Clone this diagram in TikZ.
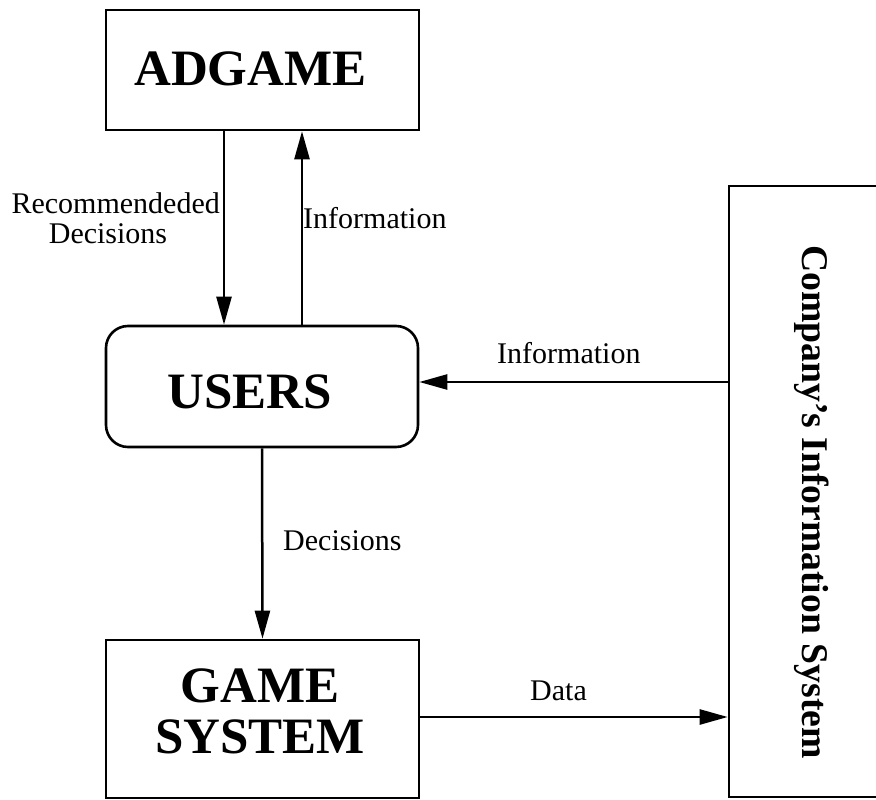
\documentclass[tikz,border=0pt]{standalone}
\usepackage{fontspec}
\setmainfont{Liberation Serif}
\usetikzlibrary{arrows.meta,calc}
\begin{document}
\begin{tikzpicture}[x=1pt,y=-1pt,
  box/.style={draw, line width=2.6pt, rectangle, inner sep=0pt},
  big/.style={font=\fontsize{51}{51}\selectfont\bfseries, inner sep=0pt},
  lbl/.style={font=\fontsize{30}{30}\selectfont, inner sep=0pt},
  arr/.style={-{Triangle[length=28pt,width=15pt]}, line width=2.5pt},
]
\useasboundingbox (0,0) rectangle (876,800);

% boxes
\node[box, minimum width=313pt, minimum height=120pt] (adgame) at (262.5,70) {};
\node[box, rounded corners=22pt, minimum width=312pt, minimum height=121pt] (users) at (262,386.5) {};
\node[box, minimum width=313pt, minimum height=158pt] (game) at (262.5,719) {};
\node[box, minimum width=161pt, minimum height=611pt] (cis) at (809.5,491.5) {};

% box titles
\node[big, anchor=base] (adgameT) at (250.5,85) {ADGAME};
\node[big, anchor=base] (usersT) at (250,408) {USERS};
\node[big, anchor=base] (gameT1) at (260,702) {GAME};
\node[big, anchor=base] (gameT2) at (260,753) {SYSTEM};
\node[font=\fontsize{37.7}{38}\selectfont\bfseries, inner sep=0pt, rotate=-90, anchor=base] (cisT) at (802,502) {Company\char"0027 s Information System};

% connector columns and rows
\coordinate (colA) at (224,0);
\coordinate (colB) at (302,0);
\coordinate (rowInfo) at (0,382);
\coordinate (rowData) at (0,717);

% connectors
\draw[arr] (adgame.south -| colA) -- (users.north -| colA);
\draw[arr] (users.north -| colB) -- (adgame.south -| colB);
\draw[arr] (cis.west |- rowInfo) -- (users.east |- rowInfo);
\draw[arr] (users.south) -- (game.north);
\draw[arr] (game.east |- rowData) -- (cis.west |- rowData);

% connector labels
\node[lbl, anchor=base east] (recA) at (220,213) {Recommendeded};
\node[lbl, anchor=base] (recB) at (108,243) {Decisions};
\node[lbl, anchor=base west] (infoUp) at (303,228) {Information};
\node[lbl, anchor=base west] (infoRight) at (497,363) {Information};
\node[lbl, anchor=base west] (dec) at (283,550) {Decisions};
\node[lbl, anchor=base west] (data) at (530,700) {Data};
\end{tikzpicture}
\end{document}
